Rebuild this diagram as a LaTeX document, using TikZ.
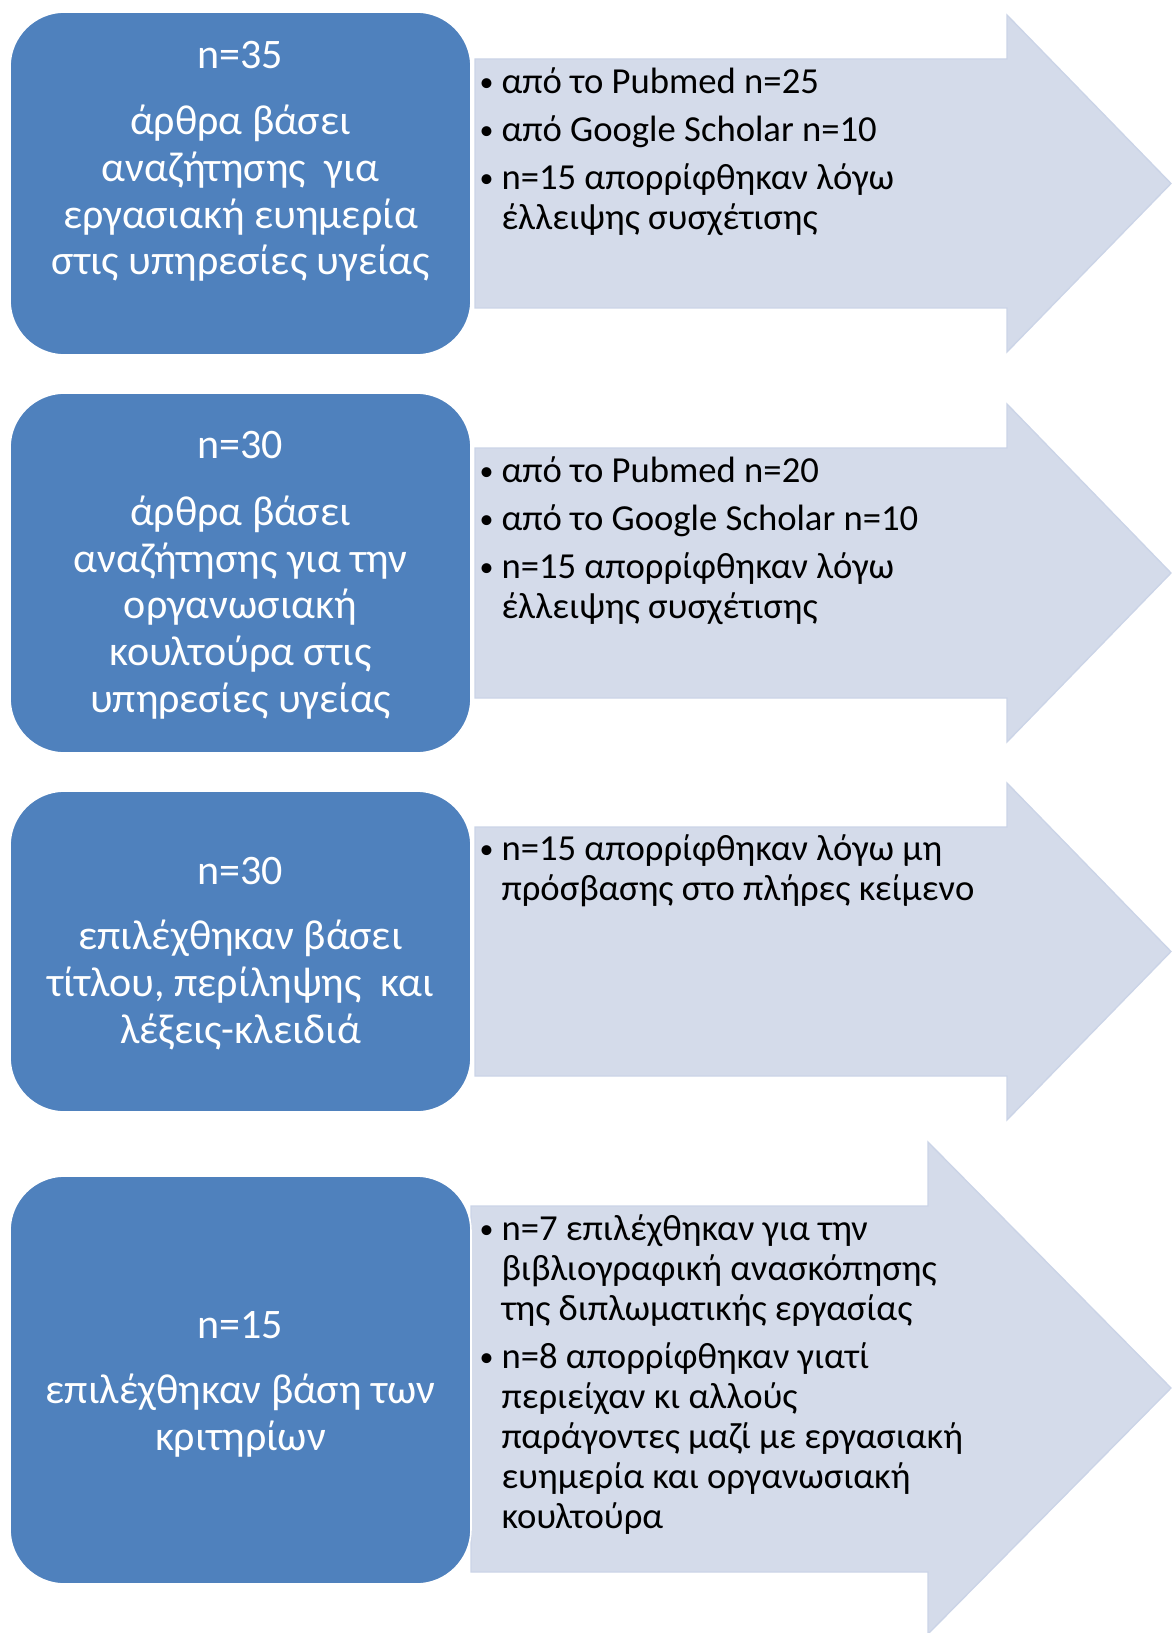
\documentclass[tikz,border=0pt]{standalone}
\usepackage{fontspec}
\setmainfont{Carlito}
\definecolor{boxblue}{RGB}{79,129,189}
\definecolor{arrowfill}{RGB}{212,219,234}
\definecolor{arrowline}{RGB}{203,212,231}
\newcommand{\blt}{\makebox[16.5pt][l]{\raisebox{1.5pt}{\fontsize{21}{21}\selectfont\textbullet}}}
\newcommand{\ind}{\hspace*{16.5pt}}
\tikzset{every picture/.style={line width=0.75pt}}
\tikzset{
  bluebox/.style={fill=boxblue, draw=white, line width=1.2pt, rounded corners=41pt},
  bigarrow/.style={fill=arrowfill, draw=arrowline, line width=1pt},
  boxtext/.style={anchor=base, align=center, text=white, inner sep=0pt,
    font=\fontsize{31.5}{35}\selectfont},
  listtext/.style={anchor=base west, align=left, text=black, inner sep=0pt,
    font=\fontsize{27.5}{30}\selectfont}
}
\begin{document}
\begin{tikzpicture}[x=0.75pt,y=0.75pt,yscale=-1,xscale=1]
\useasboundingbox (0,0) rectangle (1171,1633);

% arrows
\draw  [bigarrow]  (475,59) -- (1007,59) -- (1007,15) -- (1171,183.5) -- (1007,352) -- (1007,308) -- (475,308) -- cycle ;
\draw  [bigarrow]  (475,448) -- (1007,448) -- (1007,404) -- (1171,573) -- (1007,742) -- (1007,698) -- (475,698) -- cycle ;
\draw  [bigarrow]  (475,827) -- (1007,827) -- (1007,783) -- (1171,951.5) -- (1007,1120) -- (1007,1076) -- (475,1076) -- cycle ;
\draw  [bigarrow]  (471,1206) -- (928,1206) -- (928,1142) -- (1171,1388) -- (928,1634) -- (928,1572) -- (471,1572) -- cycle ;

% boxes
\draw  [bluebox]  (10,12) -- (471,12) -- (471,355) -- (10,355) -- cycle ;
\draw  [bluebox]  (10,393) -- (471,393) -- (471,753) -- (10,753) -- cycle ;
\draw  [bluebox]  (10,791) -- (471,791) -- (471,1112) -- (10,1112) -- cycle ;
\draw  [bluebox]  (10,1176) -- (471,1176) -- (471,1584) -- (10,1584) -- cycle ;

% box texts (base = last line)
\draw (240.5,275) node [boxtext] (b1) {n=35\\[15pt] άρθρα βάσει\\ αναζήτησης\ \ για\\ εργασιακή ευημερία\\ στις υπηρεσίες υγείας};
\draw (240.5,712) node [boxtext] (b2) {n=30\\[15pt] άρθρα βάσει\\ αναζήτησης για την\\ οργανωσιακή\\ κουλτούρα στις\\ υπηρεσίες υγείας};
\draw (240.5,1043) node [boxtext] (b3) {n=30\\[14pt] επιλέχθηκαν βάσει\\ τίτλου, περίληψης\ \ και\\ λέξεις-κλειδιά};
\draw (240.5,1450) node [boxtext] (b4) {n=15\\[14pt] επιλέχθηκαν βάση των\\ κριτηρίων};

% lists in the arrows
\draw (479,230) node [listtext] (l1) {\blt από το Pubmed n=25\\[6pt] \blt από Google Scholar n=10\\[6pt] \blt n=15 απορρίφθηκαν λόγω\\ \ind έλλειψης συσχέτισης};
\draw (479,618) node [listtext] (l2) {\blt από το Pubmed n=20\\[6pt] \blt από το Google Scholar n=10\\[6pt] \blt n=15 απορρίφθηκαν λόγω\\ \ind έλλειψης συσχέτισης};
\draw (479,900) node [listtext] (l3) {\blt n=15 απορρίφθηκαν λόγω μη\\ \ind πρόσβασης στο πλήρες κείμενο};
\draw (479,1528) node [listtext] (l4) {\blt n=7 επιλέχθηκαν για την\\ \ind βιβλιογραφική ανασκόπησης\\ \ind της διπλωματικής εργασίας\\[6pt] \blt n=8 απορρίφθηκαν γιατί\\ \ind περιείχαν κι αλλούς\\ \ind παράγοντες μαζί με εργασιακή\\ \ind ευημερία και οργανωσιακή\\ \ind κουλτούρα};

\end{tikzpicture}
\end{document}
